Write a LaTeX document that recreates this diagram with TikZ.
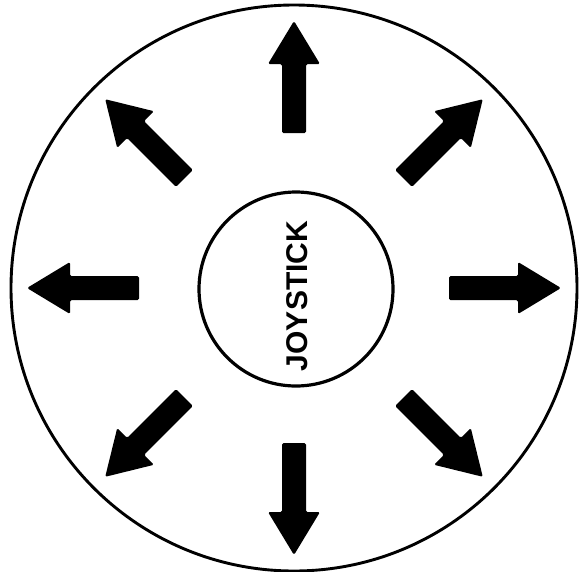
\documentclass[tikz,border=0pt]{standalone}
\usepackage{fontspec}
\setsansfont{Liberation Sans}
\begin{document}
\begin{tikzpicture}[x=1pt,y=-1pt,
  ring/.style={circle,draw,line width=2.9pt,inner sep=0pt},
  bigarrow/.style={fill=black,rounded corners=1.5pt}]
\useasboundingbox (0,0) rectangle (581,571);
\coordinate (c) at (294,288);
\node[ring,minimum size=566pt] (outer) at (c) {};
\node[ring,minimum size=194pt,line width=3.2pt] (inner) at (296,289) {};
\node[rotate=90,font=\sffamily\bfseries\fontsize{30}{30}\selectfont,inner sep=0pt] (label) at (297,296) {JOYSTICK};
\foreach \a in {0,45,...,315}
  \fill[bigarrow,shift={(c)},rotate=\a]
    (155,-12) -- (224,-12) -- (224,-26) -- (267,0) -- (224,26) -- (224,12) -- (155,12) -- cycle;
\end{tikzpicture}
\end{document}
